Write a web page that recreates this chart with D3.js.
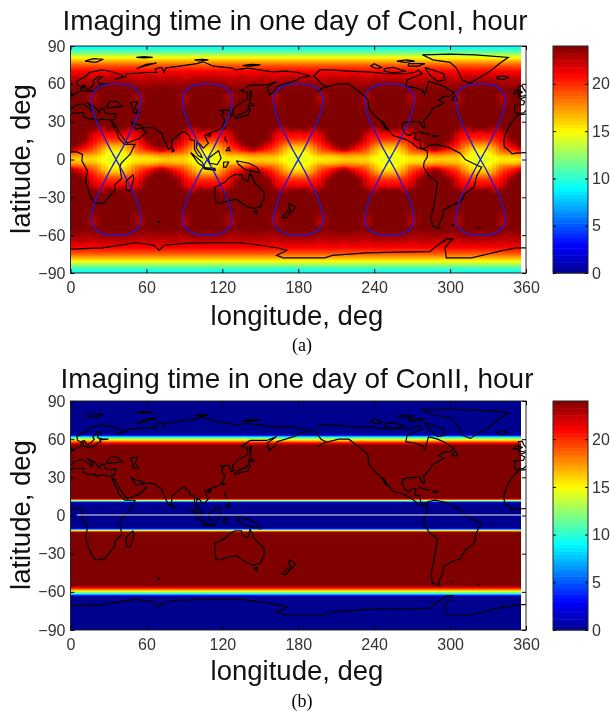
<!DOCTYPE html>
<html>
<head>
<meta charset="utf-8">
<script src="https://cdn.jsdelivr.net/npm/d3@7"></script>
<style>
  body { margin: 0; background: #fff; }
  #page { position: relative; width: 610px; height: 713px; overflow: hidden; }
  canvas, svg { position: absolute; left: 0; top: 0; }
  text { font-family: "Liberation Sans", Arial, sans-serif; }
</style>
</head>
<body>
<div id="page">
  <canvas id="heat" width="610" height="713"></canvas>
  <svg id="chart" width="610" height="713"></svg>
</div>
<script>
const lonTicks = [0, 60, 120, 180, 240, 300, 360];
const latTicks = [-90, -60, -30, 0, 30, 60, 90];
const barTicks = [0, 5, 10, 15, 20];
const jetStops = [0, 3, 9, 15, 21, 24];
const jetColors = ["#00008f", "#0000ff", "#00ffff", "#ffff00", "#ff0000", "#800000"];

// ConI repeats every 72 deg of longitude, columns every 6 deg, mirrored in latitude
const conIPeriod = 72;
const conILonBlock = 3;
const conILats = [0, 2.5, 5, 7.5, 10, 12.5, 15, 17.5, 20, 22.5, 25, 27.5, 40, 45, 50, 55, 60, 65, 70, 75, 80, 85, 90];
const conIRows = [
  [16, 16, 16, 16, 15, 14.5, 14.5, 14.5, 15, 15.5, 15.5, 15.5],
  [17, 17, 16.5, 16.5, 15.5, 14.5, 14.5, 14.5, 15.5, 16, 16, 16.5],
  [19, 18.5, 18.5, 18, 16.5, 15, 15, 15, 16.5, 18, 18, 18.5],
  [23, 21, 20, 19, 17, 15.5, 15.5, 16, 17, 19, 20, 21],
  [24, 23, 21, 20, 18, 16.5, 16.5, 16.5, 18, 20, 21, 23],
  [24, 24, 22, 20.5, 19, 18, 18, 18, 19, 20.5, 22, 24],
  [24, 24, 23.5, 21, 20, 19.5, 19.5, 19.5, 20, 21, 23.5, 24],
  [24, 24, 24, 21.5, 20.5, 20.5, 20.5, 20.5, 20.5, 21.5, 24, 24],
  [24, 24, 24, 22, 21, 21, 21, 21, 21, 22, 24, 24],
  [24, 24, 24, 23, 21.5, 23, 22, 23, 21.5, 23, 24, 24],
  [24, 24, 24, 24, 22.5, 24, 24, 24, 22.5, 24, 24, 24],
  [24, 24, 24, 24, 24, 24, 24, 24, 24, 24, 24, 24],
  [24, 24, 24, 24, 24, 24, 24, 24, 24, 24, 24, 24],
  [24, 24, 24, 23, 24, 24, 24, 24, 24, 23, 24, 24],
  [24, 24, 24, 22.5, 24, 24, 24, 24, 24, 22.5, 24, 24],
  [24, 24, 24, 24, 24, 24, 24, 24, 24, 24, 24, 24],
  [23.5, 23.2, 23, 23.2, 23.5, 23.5, 23.5, 23.5, 23.5, 23.2, 23, 23.2],
  [22, 22.5, 22.5, 22, 22.5, 22.5, 22.5, 22.5, 22.5, 22, 22.5, 22.5],
  [21, 21, 21, 21, 21, 21, 21, 21, 21, 21, 21, 21],
  [18.8, 18.8, 18.8, 18.8, 18.8, 18.8, 18.8, 18.8, 18.8, 18.8, 18.8, 18.8],
  [15.5, 15.5, 15.5, 15.5, 15.5, 15.5, 15.5, 15.5, 15.5, 15.5, 15.5, 15.5],
  [11.5, 11.5, 11.5, 11.5, 11.5, 11.5, 11.5, 11.5, 11.5, 11.5, 11.5, 11.5],
  [8.5, 8.5, 8.5, 8.5, 8.5, 8.5, 8.5, 8.5, 8.5, 8.5, 8.5, 8.5]
];

// ConII only varies with latitude
const conIILats = [0, 9.7, 10.5, 11.2, 12, 12.8, 13.5, 55, 57, 59.5, 61.7, 63, 64, 90];
const conIIValues = [0, 0, 3, 9, 15, 21, 24, 24, 21, 15, 9, 3, 0, 0];
const conIIGapLat = 0.4;
const conIIGapLons = [5, 356];
const dataLonMax = 356;

// ground track, one quarter of the figure of eight: [lon offset, lat]
const trackCenters = [36, 108, 180, 252, 324];
const trackQuarter = [[0, 0], [2.5, 4.5], [5, 9], [8, 15], [11.4, 22], [14.5, 28], [16.6, 33.7], [18.5, 40], [19.5, 47], [18.5, 52], [16, 55.5], [11, 58.5], [6, 59.7], [0, 60]];

const coastEurasiaAfrica = [[0, 49.5], [2, 51], [4, 52], [5, 53.3], [8, 54], [8.5, 57], [10.5, 57.5], [10, 54.5], [14, 54], [19, 54.5], [21, 57], [24, 58], [23, 59.5], [30, 60], [25, 60.2], [21.5, 61], [21.5, 63], [25, 65.5], [22, 65.8], [17.5, 62], [18.8, 60], [16.5, 57.5], [14, 55.5], [12.8, 56], [11, 59], [8, 58], [5.5, 59], [5, 62], [12, 66], [15, 69], [25, 71], [31, 70], [41, 67], [40, 65], [35, 64], [37, 64], [44, 66], [44, 68], [54, 68.5], [60, 69], [68, 69], [67, 72], [72, 73], [74, 69], [75, 72.5], [86, 74], [100, 76], [105, 77.5], [113, 74], [128, 72.5], [130, 71], [140, 72.5], [160, 69.5], [170, 70], [180, 69], [190, 66], [182, 65], [178, 62.5], [170, 60], [163, 58], [162, 55], [157, 51], [155.5, 57], [163, 62], [155, 59], [142, 59], [135, 54.5], [140, 53], [140, 48], [132, 43], [128, 39.5], [129, 35.5], [126.5, 34.5], [126.5, 37], [125, 39.5], [121.5, 39], [118, 39], [121, 37.5], [119.5, 35], [122, 31], [120, 26], [116, 23], [110, 21], [106, 19], [109, 13], [105, 9], [102.5, 12], [100, 13.5], [99.5, 9], [103, 4], [104, 1.5], [101, 3], [98, 8], [98, 15], [94.5, 16], [94, 19], [90, 22], [87, 21], [80, 15], [80, 10], [77.5, 8], [73, 18], [72, 21], [69, 22.5], [66.5, 25], [57, 25.5], [56.5, 27], [51, 28], [48, 30], [50, 26], [52, 24], [56, 25], [60, 22], [55, 17], [45, 13], [43, 15], [39, 21], [35, 28], [32.5, 30], [35, 24], [37, 21], [38, 17], [43, 12], [51, 12], [47, 4], [40, -3], [39, -6], [40.5, -15], [35, -20], [35, -24], [32.5, -27], [27, -34], [20, -35], [18, -33], [15, -27], [12, -17], [13.5, -9], [9, -1], [9.5, 4], [5, 6], [1, 6], [0, 5.5]];
const coastMedSouth = [[32.5, 30], [32, 31], [25, 32], [20, 31], [20, 32.5], [15, 32], [10, 34], [10.5, 37], [3, 37], [0, 36]];
const coastMedNorth = [[0, 39], [3, 42.5], [7, 43.5], [10, 44], [15.5, 40], [16, 38], [18, 40], [13, 45], [19, 42], [23, 37], [24, 40.5], [26.5, 40], [27, 37], [32, 36], [36, 36.5], [35, 32], [32, 31]];
const coastBlackSea = [[28, 41], [31, 46], [37, 46], [41, 42], [36, 41.5], [28, 41]];
const coastCaspian = [[47, 45], [53, 46], [51, 41], [54, 37], [50, 37], [49, 41], [47, 45]];
const coastWestAfrica = [[360, 5.5], [352, 5], [349, 4.5], [346, 7.5], [343, 10], [342.5, 15], [344, 21], [347, 27], [350, 31], [354, 35.5], [360, 36]];
const coastIberia = [[360, 39], [358, 37], [354, 36.5], [351, 37], [351, 43], [358, 43.5], [359, 46], [355, 48], [358, 49], [360, 49.5]];
const coastAmericas = [[192, 66], [197, 71], [205, 71], [220, 70], [235, 69.5], [250, 68], [265, 68], [272, 69], [275, 71], [278, 68], [266, 63], [265, 58], [272, 57], [278, 55], [280, 51.5], [281, 55], [283, 62], [290, 60], [295, 58], [303, 53], [300, 50], [295, 50], [291, 47], [295, 45], [290, 42], [286, 40], [284, 36], [279, 31], [280, 26], [279, 25], [277, 28], [276, 30], [270, 30], [263, 29], [262, 25], [265, 20], [268, 19], [270, 21], [273, 21], [272, 16], [276, 15.5], [277, 9], [280, 9], [283, 11], [288, 12], [298, 10], [308, 5], [312, 0], [322, -5], [325, -6], [321, -13], [319, -22], [312, -27], [308, -34], [302, -36], [295, -40], [294, -46], [291, -52], [292, -55], [286, -53], [285, -45], [287, -37], [289, -25], [290, -18], [284, -14], [279, -6], [279.5, -2], [282, 2], [282, 7], [279, 8], [275, 9], [270, 13], [265, 16], [255, 19], [250, 25], [247, 30], [250, 23], [245, 31], [242, 33], [236, 40], [235, 48], [229, 53], [220, 60], [212, 60], [200, 57], [195, 54], [202, 58], [198, 60], [195, 64], [192, 66]];
const coastGreenland = [[278, 83], [300, 83.5], [320, 83], [346, 81], [339.6, 76.5], [331.6, 70], [316, 60.6], [309.6, 63], [305, 72.5], [300, 77], [286.5, 79], [278, 83]];
const coastAntarctica = [[0, -71], [25, -70], [52, -66], [66, -68], [70, -72], [74, -68], [90, -66.5], [108, -66], [134, -66], [150, -68], [163, -70], [171, -72], [163, -76], [168, -78], [201, -78], [207, -76], [234, -74], [258, -73.5], [284, -73], [290, -68], [297.6, -63], [302, -63], [296, -70], [297, -78], [317, -78], [342, -72], [353, -70], [360, -70]];
const coastIslands = [
  [[360, 53.5], [361.5, 52.5], [361, 51], [358.5, 50.5], [354, 50], [355, 52], [357, 53.5], [354, 55], [354, 58], [357, 58.5], [358, 56], [360, 53.5]],
  [[0, 53.5], [1.5, 52.5], [1, 51], [0, 50.8]],
  [[350, 52], [354, 52.5], [354, 55], [352, 55], [350, 52]],
  [[337, 64], [342, 63.5], [346, 65], [343, 66.3], [337, 65.5], [337, 64]],
  [[11.5, 78], [18, 80], [26, 79.5], [20, 77], [11.5, 78]],
  [[52, 81], [58, 80.5], [65, 81], [58, 81.5], [52, 81]],
  [[52, 72], [58, 74], [68, 76.5], [60, 75.5], [54, 73], [52, 72]],
  [[98, 79], [104, 79.5], [109, 79], [102, 78], [98, 79]],
  [[136, 74.5], [143, 75.5], [150, 75], [142, 74], [136, 74.5]],
  [[142, 46], [143, 54], [142, 54], [142, 46]],
  [[130, 32], [135, 34], [140, 35], [142, 39], [141, 41], [139, 38], [133, 35.5], [130, 33.5], [130, 32]],
  [[140, 42], [145, 43], [142, 45], [140, 42]],
  [[120, 23], [122, 25], [121, 25], [120, 23]],
  [[108, 19], [111, 20], [110, 18], [108, 19]],
  [[122.5, 18.5], [122, 16], [124, 13.5]],
  [[125, 10], [126, 7], [123, 7], [125, 10]],
  [[95, 5.5], [104, -2], [106, -6], [101, -3], [95, 5.5]],
  [[105, -6.5], [114, -7], [114.5, -8.5], [106, -7.5], [105, -6.5]],
  [[109, 1], [117, 7], [119, 1], [116, -4], [110, -3], [109, 1]],
  [[121, -2], [125, -2], [123, -6], [121, -6], [121, -2]],
  [[131, -1], [141, -3], [147, -6], [150, -10.5], [143, -9], [138, -8], [133, -4], [131, -1]],
  [[114, -22], [122, -18], [126, -14], [130, -12], [135, -12], [136, -15], [140, -17.5], [142, -11], [146, -19], [153, -26], [153, -31], [150, -37.5], [145, -39], [140, -37.5], [136, -35], [131, -31.5], [124, -33], [118, -35], [115, -34], [114, -26], [114, -22]],
  [[145, -41], [148, -41], [147, -43.5], [145, -41]],
  [[172.5, -34.5], [178, -38], [175, -41.5], [173, -39], [172.5, -34.5]],
  [[172, -41], [174, -42], [170, -46.5], [167, -46], [172, -41]],
  [[49.5, -12], [50, -16], [47, -25], [44, -24], [44, -17], [49.5, -12]],
  [[80, 9.5], [82, 7], [80.5, 6], [80, 9.5]],
  [[69, -49], [70.5, -49], [70, -50], [69, -49]],
  [[302, -51.5], [303, -52], [301, -52], [302, -51.5]],
  [[322, -54], [324, -54.5], [322.5, -54.5], [322, -54]],
  [[275, 22], [284, 20], [279, 21], [275, 22]],
  [[286, 19], [291, 19], [288, 18], [286, 19]],
  [[280, 73], [295, 68], [296, 63], [290, 62], [284, 67], [280, 73]],
  [[237, 74], [242, 72], [246, 73], [240, 76], [237, 74]],
  [[248, 72], [255, 73], [265, 70], [255, 68.8], [248, 70], [248, 72]],
  [[267, 76], [280, 76], [275, 74], [267, 74], [267, 76]],
  [[258, 78], [266, 79], [272, 78], [264, 77], [258, 78]],
  [[301, 47], [306, 47], [304, 51], [301, 47]]
];
const coastlines = [coastEurasiaAfrica, coastMedSouth, coastMedNorth, coastBlackSea, coastCaspian, coastWestAfrica, coastIberia, coastAmericas, coastGreenland, coastAntarctica, ...coastIslands];

const jet = d3.scaleLinear().domain(jetStops).range(jetColors).clamp(true);

function lerpIndex(list, v) {
  const i = Math.min(d3.bisectRight(list, v) - 1, list.length - 2);
  return [i, (v - list[i]) / (list[i + 1] - list[i])];
}

function conIValue(lon, lat) {
  const [r, rt] = lerpIndex(conILats, Math.abs(lat));
  const n = conIRows[0].length;
  // the original field is gridded in blocks, keep the stair steps
  const blockLon = Math.floor(lon / conILonBlock) * conILonBlock + conILonBlock / 2;
  const u = (blockLon % conIPeriod) / (conIPeriod / n);
  const c = Math.floor(u) % n, c2 = (c + 1) % n, ct = u - Math.floor(u);
  const a = conIRows[r][c] * (1 - ct) + conIRows[r][c2] * ct;
  const b = conIRows[r + 1][c] * (1 - ct) + conIRows[r + 1][c2] * ct;
  return a * (1 - rt) + b * rt;
}

function conIIValue(lon, lat) {
  const [r, rt] = lerpIndex(conIILats, Math.abs(lat));
  return conIIValues[r] * (1 - rt) + conIIValues[r + 1] * rt;
}

const ctx = document.getElementById("heat").getContext("2d");
const svg = d3.select("#chart");
const x = d3.scaleLinear().domain([0, 360]).range([70.5, 526]);

function drawPanel(p) {
  const { top, bottom, valueAt } = p;
  const y = d3.scaleLinear().domain([-90, 90]).range([bottom, top]);
  const line = d3.line().x(d => x(d[0])).y(d => y(d[1]));
  const g = svg.append("g");
  const clipId = "clip" + top;

  // heat field, one colour per pixel
  for (let py = Math.ceil(top); py < bottom; py++) {
    for (let px = Math.ceil(x(0)); px < x(dataLonMax); px++) {
      ctx.fillStyle = jet(valueAt(x.invert(px + 0.5), y.invert(py + 0.5)));
      ctx.fillRect(px, py, 1, 1);
    }
  }

  g.append("clipPath").attr("id", clipId).append("rect")
    .attr("x", x(0)).attr("y", top).attr("width", x(360) - x(0)).attr("height", bottom - top);

  const maps = g.append("g").attr("clip-path", `url(#${clipId})`);
  maps.selectAll("path.coast")
    .data(coastlines)
    .join("path")
    .attr("class", "coast")
    .attr("d", line)
    .attr("fill", "none")
    .attr("stroke", "#000")
    .attr("stroke-width", 1.2);

  if (p.withTrack) {
    const north = trackQuarter.concat(trackQuarter.slice(0, -1).reverse().map(d => [-d[0], d[1]]));
    const south = north.slice(1).map(d => [d[0], -d[1]]);
    const figure = north.concat(south);
    const trackLine = line.curve(d3.curveCatmullRom);
    maps.selectAll("path.track")
      .data(trackCenters)
      .join("path")
      .attr("class", "track")
      .attr("d", c => trackLine(figure.map(d => [c + d[0], d[1]])))
      .attr("fill", "none")
      .attr("stroke", "#1a1ae0")
      .attr("stroke-width", 1.3);
  }

  if (p.withGap) {
    maps.append("line")
      .attr("x1", x(conIIGapLons[0]))
      .attr("x2", x(conIIGapLons[1]))
      .attr("y1", y(conIIGapLat))
      .attr("y2", y(conIIGapLat))
      .attr("stroke", "#e8e8f4")
      .attr("stroke-width", 1.2);
  }

  // axes with matlab style inward ticks
  g.append("rect")
    .attr("x", x(0)).attr("y", top).attr("width", x(360) - x(0)).attr("height", bottom - top)
    .attr("fill", "none").attr("stroke", "#222").attr("stroke-width", 1);

  const xAxis = g.append("g").attr("transform", `translate(0,${bottom})`)
    .call(d3.axisBottom(x).tickValues(lonTicks).tickFormat(d3.format("d")).tickSize(-4).tickPadding(9));
  const yAxis = g.append("g").attr("transform", `translate(${x(0)},0)`)
    .call(d3.axisLeft(y).tickValues(latTicks).tickFormat(d3.format("d")).tickSize(-4).tickPadding(5));
  g.append("g").attr("transform", `translate(${x(360)},0)`)
    .call(d3.axisRight(y).tickValues(latTicks).tickFormat("").tickSize(-4));
  g.append("g").attr("transform", `translate(0,${top})`)
    .call(d3.axisTop(x).tickValues(lonTicks).tickFormat("").tickSize(-4));
  g.selectAll(".domain").remove();
  [xAxis, yAxis].forEach(a => a.selectAll("text")
    .style("font-size", "16px")
    .style("font-family", '"Liberation Sans", Arial, sans-serif')
    .attr("fill", "#333"));

  g.append("text")
    .attr("x", p.titleX).attr("y", p.titleY)
    .attr("text-anchor", "middle")
    .style("font-size", "27.9px")
    .attr("fill", "#111")
    .text(p.title);

  g.append("text")
    .attr("x", 297).attr("y", p.xLabelY)
    .attr("text-anchor", "middle")
    .style("font-size", "27.5px")
    .attr("fill", "#111")
    .text("longitude, deg");

  g.append("text")
    .attr("transform", `translate(30,${p.yLabelMid}) rotate(-90)`)
    .attr("text-anchor", "middle")
    .style("font-size", "27.5px")
    .attr("fill", "#111")
    .text("latitude, deg");

  g.append("text")
    .attr("x", 302).attr("y", p.tagY)
    .attr("text-anchor", "middle")
    .style("font-family", '"Liberation Serif", "Times New Roman", serif')
    .style("font-size", "18px")
    .attr("fill", "#000")
    .text(p.tag);

  // colorbar
  const barY = d3.scaleLinear().domain([0, 24]).range([bottom, top]);
  const barSteps = d3.range(64);
  const bar = g.append("g");
  bar.selectAll("rect")
    .data(barSteps)
    .join("rect")
    .attr("x", 553)
    .attr("width", 35)
    .attr("y", d => barY((d + 1) * 24 / 64))
    .attr("height", d => barY(d * 24 / 64) - barY((d + 1) * 24 / 64) + 0.5)
    .attr("fill", d => jet((d + 0.5) * 24 / 64));
  bar.append("rect")
    .attr("x", 553).attr("y", top).attr("width", 35).attr("height", bottom - top)
    .attr("fill", "none").attr("stroke", "#222").attr("stroke-width", 1);
  const barAxis = g.append("g").attr("transform", "translate(588,0)")
    .call(d3.axisRight(barY).tickValues(barTicks).tickSize(-3).tickPadding(4));
  g.append("g").attr("transform", "translate(553,0)")
    .call(d3.axisLeft(barY).tickValues(barTicks).tickFormat("").tickSize(-3));
  g.selectAll(".domain").remove();
  barAxis.selectAll("text")
    .style("font-size", "16px")
    .style("font-family", '"Liberation Sans", Arial, sans-serif')
    .attr("fill", "#333");
}

drawPanel({ top: 46, bottom: 273, valueAt: conIValue, title: "Imaging time in one day of ConI, hour", titleX: 295, titleY: 30, xLabelY: 325, yLabelMid: 159, tag: "(a)", tagY: 351, withTrack: true });
drawPanel({ top: 401, bottom: 630, valueAt: conIIValue, title: "Imaging time in one day of ConII, hour", titleX: 297, titleY: 388, xLabelY: 680, yLabelMid: 515, tag: "(b)", tagY: 707, withGap: true });
</script>
</body>
</html>
